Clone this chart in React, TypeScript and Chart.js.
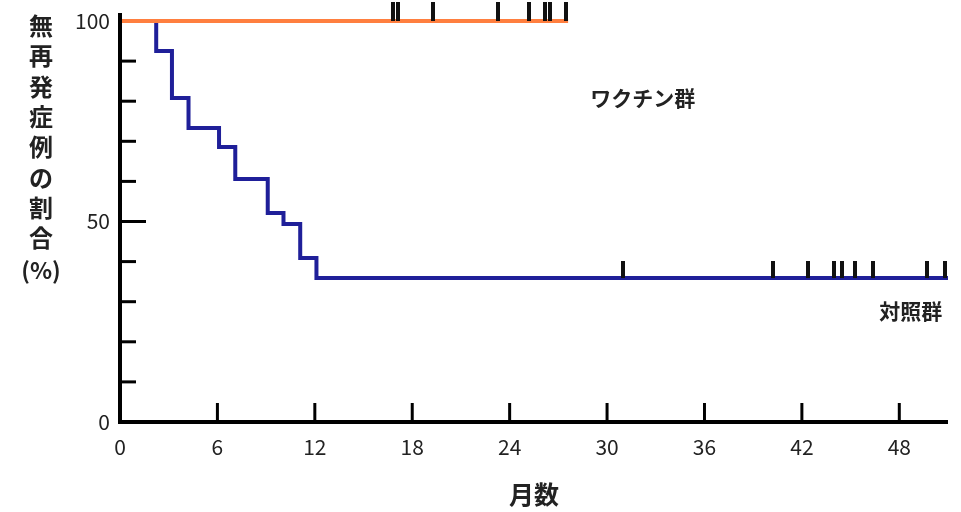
import React, { useEffect, useRef } from "react";
import { Chart, registerables } from "chart.js";

Chart.register(...registerables);

// ---- data ----
const X_MAX = 51;
const X_TICK_STEP = 6;
const Y_TICK_STEP = 10;
const Y_LABELED = [0, 50, 100];

const vaccineTimes = [0, 27.6];
const vaccineSurvival = [100, 100];
const vaccineCensored = [16.8, 17.15, 19.3, 23.3, 25.2, 26.15, 26.5, 27.5];

const controlTimes = [0, 2.23, 3.2, 4.22, 6.1, 7.1, 9.1, 10.07, 11.1, 12.1, 51];
const controlSurvival = [100, 92.5, 80.8, 73.3, 68.6, 60.6, 52.1, 49.4, 40.9, 35.9, 35.9];
const controlCensored = [31.0, 40.2, 42.4, 44.0, 44.5, 45.3, 46.4, 49.7, 50.8];

const groupNames = ["ワクチン群", "対照群"];
const xAxisTitle = "月数";
const yAxisTitleChars = ["無", "再", "発", "症", "例", "の", "割", "合", "(%)"];

// label anchors (in data units) — layout, not data
const groupLabelAnchors = [
  { x: 32.2, y: 80.8 },
  { x: 48.7, y: 27.7 },
];

const ORANGE = "#ff7f3f";
const NAVY = "#1f1f99";
const FONT = "'Noto Sans CJK JP', 'Noto Sans', sans-serif";

function survivalAt(times: number[], surv: number[], t: number) {
  let v = surv[0];
  for (let i = 0; i < times.length; i++) {
    if (times[i] <= t) v = surv[i];
  }
  return v;
}

function makeCensorImage(len: number, w: number, color: string) {
  const c = document.createElement("canvas");
  c.width = w;
  c.height = len * 2;
  const g = c.getContext("2d")!;
  g.fillStyle = color;
  g.fillRect(0, 0, w, len);
  return c;
}

const decorPlugin = {
  id: "decor",
  afterDatasetsDraw(chart: any) {
    const { ctx, scales } = chart;
    const x = scales.x;
    const y = scales.y;
    const x0 = x.getPixelForValue(0);
    const y0 = y.getPixelForValue(0);
    const yTop = y.getPixelForValue(100) - 8;
    const xEnd = x.getPixelForValue(X_MAX);
    ctx.save();
    ctx.strokeStyle = "#000";
    ctx.lineCap = "butt";
    ctx.lineWidth = 3;
    // y tick marks (inside)
    y.ticks.forEach((t: any) => {
      if (t.value <= 0 || t.value >= 100) return;
      const py = y.getPixelForValue(t.value);
      const len = t.value === 50 ? 26 : 16;
      ctx.beginPath();
      ctx.moveTo(x0, py);
      ctx.lineTo(x0 + len, py);
      ctx.stroke();
    });
    // x tick marks (inside)
    x.ticks.forEach((t: any) => {
      if (t.value <= 0 || t.value % X_TICK_STEP !== 0) return;
      const px = x.getPixelForValue(t.value);
      ctx.beginPath();
      ctx.moveTo(px, y0);
      ctx.lineTo(px, y0 - 19);
      ctx.stroke();
    });
    // axes
    ctx.lineWidth = 4;
    ctx.lineJoin = "miter";
    ctx.beginPath();
    ctx.moveTo(x0, yTop);
    ctx.lineTo(x0, y0);
    ctx.lineTo(xEnd, y0);
    ctx.stroke();

    // y-axis title (vertical, stacked)
    ctx.fillStyle = "#222";
    ctx.textAlign = "center";
    ctx.textBaseline = "middle";
    const startY = 26;
    const stepY = 30.3;
    yAxisTitleChars.forEach((ch, i) => {
      const last = i === yAxisTitleChars.length - 1;
      ctx.font = last ? `bold 23px ${FONT}` : `bold 24px ${FONT}`;
      const cy = last ? startY + stepY * i + 2 : startY + stepY * i;
      ctx.fillText(ch, 41, cy);
    });

    // group labels
    ctx.font = `bold 21px ${FONT}`;
    groupNames.forEach((name, i) => {
      const a = groupLabelAnchors[i];
      ctx.fillText(name, x.getPixelForValue(a.x), y.getPixelForValue(a.y));
    });
    ctx.restore();
  },
};

export default function App() {
  const ref = useRef<HTMLCanvasElement>(null);
  useEffect(() => {
    if (!ref.current) return;
    const vaccineCensorImg = makeCensorImage(19, 4, "#111");
    const controlCensorImg = makeCensorImage(17, 4, "#111");
    const chart = new Chart(ref.current, {
      type: "line",
      data: {
        datasets: [
          {
            label: groupNames[0] + " censor",
            data: vaccineCensored.map((t) => ({ x: t, y: survivalAt(vaccineTimes, vaccineSurvival, t) })),
            showLine: false,
            pointStyle: vaccineCensorImg as any,
            pointRadius: 10,
            order: 1,
            clip: false as any,
          },
          {
            label: groupNames[1] + " censor",
            data: controlCensored.map((t) => ({ x: t, y: survivalAt(controlTimes, controlSurvival, t) })),
            showLine: false,
            pointStyle: controlCensorImg as any,
            pointRadius: 10,
            order: 1,
            clip: false as any,
          },
          {
            label: groupNames[0],
            data: vaccineTimes.map((t, i) => ({ x: t, y: vaccineSurvival[i] })),
            borderColor: ORANGE,
            borderWidth: 4,
            pointRadius: 0,
            stepped: "before",
            order: 2,
            clip: false as any,
          },
          {
            label: groupNames[1],
            data: controlTimes.map((t, i) => ({ x: t, y: controlSurvival[i] })),
            borderColor: NAVY,
            borderWidth: 4,
            pointRadius: 0,
            stepped: "before",
            borderCapStyle: "butt",
            borderJoinStyle: "miter",
            order: 3,
            clip: false as any,
          },
        ],
      },
      options: {
        responsive: false,
        animation: false,
        layout: { padding: { left: 0, right: 13, top: 21, bottom: 0 } },
        plugins: {
          legend: { display: false },
          tooltip: { enabled: false },
        },
        scales: {
          x: {
            type: "linear",
            min: 0,
            max: X_MAX,
            grid: { display: false, drawTicks: false, tickLength: 0 },
            border: { display: false },
            ticks: {
              stepSize: X_TICK_STEP,
              autoSkip: false,
              maxRotation: 0,
              padding: 12,
              color: "#222",
              font: { family: FONT, size: 21 },
              callback: (v: any) => (Number(v) % X_TICK_STEP === 0 ? String(v) : ""),
            },
            title: {
              display: true,
              text: xAxisTitle,
              color: "#222",
              font: { family: FONT, size: 25, weight: "bold" },
              padding: { top: 0, bottom: 3 },
            },
            afterFit: (s: any) => {
              s.height = 90;
            },
          },
          y: {
            type: "linear",
            min: 0,
            max: 100,
            grid: { display: false, drawTicks: false, tickLength: 0 },
            border: { display: false },
            ticks: {
              stepSize: Y_TICK_STEP,
              autoSkip: false,
              padding: 10,
              color: "#222",
              font: { family: FONT, size: 21, lineHeight: 1 },
              callback: (v: any) => (Y_LABELED.includes(Number(v)) ? String(v) : ""),
            },
            afterFit: (s: any) => {
              s.width = 120;
            },
          },
        },
      },
      plugins: [decorPlugin],
    });
    return () => chart.destroy();
  }, []);
  return (
    <div style={{ position: "absolute", left: 0, top: 0, width: 961, height: 512, background: "#fff" }}>
      <canvas ref={ref} width={961} height={512} />
    </div>
  );
}
